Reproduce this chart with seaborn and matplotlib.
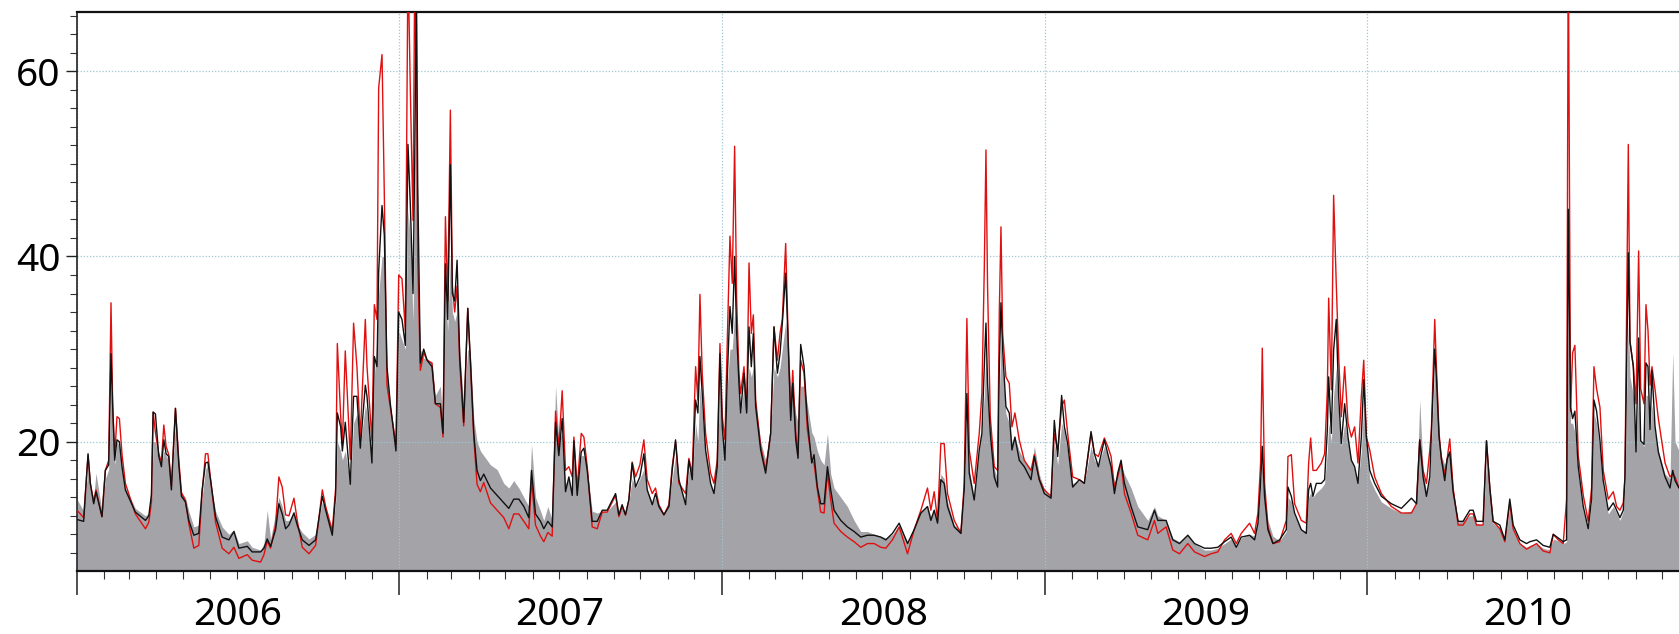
import numpy as np
import pandas as pd
import matplotlib
matplotlib.use("Agg")
import matplotlib.pyplot as plt
import matplotlib.dates as mdates
import matplotlib.ticker as mticker
import matplotlib.transforms as mtrans
import seaborn as sns

# ---------------- data ----------------
start_date = "2006-01-01"
end_offset_days = 1814.1
year_labels = ["2006", "2007", "2008", "2009", "2010"]
y_ticks = [20, 40, 60]

# day offsets from 2006-01-01
days = [
    0, 7.5, 12.5, 15.1, 18.9, 21.5, 28.3, 32.1, 35.9, 38.5, 40.4, 42.7, 45.3, 48.0, 51.0, 54.8,
    66.1, 77.5, 81.3, 84.3, 86.2, 88.8, 92.6, 95.6, 98.3, 100.9, 103.9, 106.9, 111.5, 115.3,
    118.3, 122.8, 126.6, 132.3, 137.9, 141.7, 145.5, 148.2, 151.2, 156.9, 164.4, 172, 177.7,
    183.3, 192.8, 198.4, 207.9, 211.7, 215.4, 219.2, 224.9, 228.6, 232.4, 236.2, 240, 245.7,
    249.4, 255.1, 262.7, 270.2, 277.8, 281.6, 289.1, 292.9, 294.8, 298.6, 300.5,
    303.8, 309.5, 313.2, 317, 320.8, 326.5, 328.4, 334, 336.7, 339.7, 341.6, 345.4, 348, 351,
    354.8, 361.2, 364.3, 368, 371.8, 374.8, 377.5, 380.5, 382.4, 384.3, 385.8, 388.8, 392.6,
    396.4, 402, 405.8, 411.5, 414.5, 417.2, 419.8, 422.8, 425.1, 427.7, 430.4, 433.4, 437.9,
    442.5, 445.5, 449.3, 453, 456.8, 460.6, 468.2, 475.7, 483.3, 489, 494.6, 500.3, 506,
    511.6, 514.7, 519.2, 524.9, 528.6, 533.2, 538.1, 541.9, 545.6, 549.4, 553.2, 557, 560.8,
    562.7, 566.4, 571, 574, 577.8, 583.4, 589.1, 594.8, 600.4, 609.9,
    613.6, 617.3, 621.1, 624.9, 628.7, 632.5, 637.4, 641.9, 645.7, 651.4, 655.1, 658.9,
    664.6, 670.3, 674, 677.8, 681.6, 689.2, 692.9, 696.7, 700.5, 703.1, 705.4, 708, 711.8,
    717.5, 721.3, 725, 728.1, 730.7, 733.7, 736.4, 739.4, 742, 744.7, 747, 749.6, 751.5,
    755.3, 758.3, 761, 763.6, 765.9, 768.5, 774.2, 779.8, 785.5, 789.3, 793.1, 796.1, 798.7,
    802.5, 805.2, 808.2, 810.5, 813.9, 816.5, 819.5, 823.3, 827.1, 832, 834.6, 838.4, 842.2,
    846, 849.8, 853.5, 857.3, 864.9, 872.4, 880, 887.5, 895.1, 902.7, 910.2, 915.9,
    923.4, 931, 940.5, 948, 955.6, 963.1, 966.9, 970.7, 974.5, 978.2, 982, 985.8, 993.4,
    1000.9, 1004.7, 1007.7, 1010.4, 1016, 1021.7, 1024.7, 1027.4, 1029.3, 1031.1, 1034.2,
    1038.7, 1042.5, 1044.4, 1046.3, 1048.2, 1051.9, 1055.7, 1058.7, 1062.1, 1067, 1072.7,
    1080.3, 1084.1, 1089.7, 1095.4, 1103, 1106.7, 1110.5, 1115, 1118.1, 1121.8, 1127.5,
    1135.1, 1140.7, 1148.3, 1152.1, 1156.6, 1163.4, 1167.2, 1171, 1174.8, 1178.5, 1182.3,
    1186.1, 1193.6, 1201.2, 1212.5, 1220.1,
    1223.9, 1233.3, 1240.9, 1248.4, 1257.9, 1265.5, 1276.8, 1284.3, 1291.9, 1299.5, 1307,
    1312.7, 1318.4, 1327.8, 1333.5, 1337.3, 1340.3, 1342.2, 1344.8, 1348.6, 1354.3, 1361.8,
    1369.4, 1371.3, 1375.1, 1378.8, 1386.4, 1392, 1394.7, 1397, 1399.6, 1403.4, 1409.1,
    1412.8, 1415.9, 1417.4, 1420.4, 1423, 1426, 1428.7, 1431.7, 1435.5, 1439.3, 1443.1,
    1446.8, 1450.6, 1454.4, 1457.1, 1460.1, 1463.9, 1469.5, 1477.1, 1488.4, 1499.7, 1511.1,
    1516.8, 1520.5, 1524.3, 1528.1, 1531.9,
    1533.7, 1537.5, 1539.4, 1542.4, 1545.1, 1548.8, 1551.5, 1554.5, 1558.3, 1564, 1569.6,
    1577.2, 1581, 1584.7, 1592.3, 1596.1, 1599.9, 1603.6, 1611.2, 1616.9, 1622.5, 1626.3,
    1633.9, 1641.4, 1645.2, 1652.8, 1660.3, 1667.9, 1671.7, 1677.3, 1683, 1686.8, 1688.7,
    1691.3, 1693.6, 1696.2, 1700, 1705.7, 1711.3, 1715.1, 1717.8, 1720.8, 1724.6, 1728.3,
    1734, 1739.7, 1743.5, 1747.2, 1751, 1752.9, 1754.8, 1756.7, 1758.6, 1762.4, 1765.4,
    1768.4, 1770.7, 1774.5, 1776.7, 1779, 1781.3, 1783.5, 1786.9, 1790.7, 1798.3, 1803.9,
    1807, 1809.6, 1814.1,
]

# grey area (observed)
observed = [
    13.8, 12.5, 17, 15, 14, 16.6, 12.5, 16, 17, 26, 22, 17.5, 20, 19.5, 17, 15,
    12.8, 12, 12.3, 13.5, 20, 20, 18, 17.5, 19, 18.5, 18, 15, 22, 17,
    14.5, 14, 12.5, 10.8, 11, 14, 17, 17.5, 15.5, 12.5, 10.8, 10, 10.5,
    9, 9.3, 8.6, 8.3, 9, 12.6, 9.5, 12.3, 14, 13, 11.5, 11.5, 12.5,
    11, 10.2, 9.5, 10, 13.5, 12.5, 10.2, 13.5, 20, 19, 18,
    19, 15.5, 22, 23, 19.5, 24, 23, 18, 27, 31, 36, 40, 40, 28,
    24, 19.5, 32, 31, 30, 45, 42, 33, 45, 60, 40, 30, 29,
    29, 28.5, 25, 26, 22, 36, 32, 40, 34, 33, 34, 30, 24,
    30, 29.5, 22.5, 20, 19, 18.5, 17.5, 17, 15.5, 15, 15.8, 15, 14,
    13, 19.7, 14, 12.5, 11.5, 13, 11.5, 26, 20, 21, 15.5, 16, 14.5,
    18, 15, 18.5, 18.5, 17, 12.5, 12.3, 12.5, 12.5, 13.5,
    12.3, 13, 12.3, 13.5, 16, 15, 16, 17, 14.8, 13.5, 14, 13,
    12.3, 13.5, 16, 18.5, 15.5, 13.5, 17, 16, 22, 20, 26, 23, 19,
    15.5, 14.5, 18, 26, 21, 19, 26, 30, 30, 34, 30, 26, 23,
    26, 24, 28, 27, 28, 24, 20, 18, 21, 28, 27, 28, 30,
    33, 30, 26, 26, 23, 22, 26, 26, 24, 21, 20.5, 19, 18,
    17.5, 20.9, 16.5, 15, 14, 13, 11.5, 10.3, 10.3, 10, 9.8, 9.6,
    10, 11, 9.2, 10.8, 12.5, 13, 12, 12.5, 11.5, 16.5, 16, 13.5, 11,
    10.5, 14.5, 23, 17, 14, 19, 21, 25, 30, 25, 21,
    17, 16, 25, 31, 28, 23, 22, 20, 20.5, 19, 18,
    17, 19.5, 16.5, 14.8, 14, 20, 17.5, 22, 21, 19, 15.5,
    15.8, 15.5, 19.5, 18, 17.5, 19.5, 18.5, 17.5, 15.5, 16.5, 17.5,
    16.5, 15, 13, 11.5, 13,
    12, 11.5, 9.6, 9.2, 10, 9, 8.3, 8.3, 8.5, 9, 9.5,
    8.8, 9.6, 10, 9.8, 11.5, 15, 18, 14.5, 11.5, 9.8, 9.3,
    10.3, 14, 13.5, 12, 10.5, 10.3, 14, 14.5, 14, 14.5, 15,
    15.5, 19, 22, 20, 25, 28, 23, 19.5, 22, 20, 18,
    17, 15.5, 19, 24, 20, 16, 14.8, 13.5, 12.8, 12.3, 12.5,
    13.5, 24.5, 17, 14.5, 16,
    20, 28, 25, 19.5, 18.5, 17.5, 18.5, 19, 15, 11.3, 11.5,
    12, 12, 11.2, 11, 18, 14.5, 11.2, 10.6, 9.3, 13, 10.5,
    9, 8.6, 8.8, 9, 8.5, 8.3, 9.5, 9.3, 9, 9.2, 39.6,
    22, 22, 21, 16.5, 12.5, 10.5, 13.5, 23, 22, 19, 15,
    12.2, 13, 12.3, 11.5, 12.5, 15.5, 25, 33, 27, 25, 19,
    26, 20, 19.5, 25, 25, 21, 24, 21, 19, 16.5, 16,
    29.6, 20, 19,
]

# black simulation line
sim_black = [
    11.6, 11.4, 18.7, 15.5, 13.3, 14.6, 11.9, 16.9, 17.5, 29.5, 23.8, 18, 20.2, 20, 17.3, 14.8,
    12.4, 11.5, 12.0, 14.3, 23.2, 23, 18.4, 17.3, 20.2, 18.7, 18.4, 14.8, 23.6, 17.5,
    14.1, 13.5, 11.5, 9.9, 10.1, 14.8, 17.7, 17.8, 15.9, 11.9, 9.7, 9.4, 10.3,
    8.5, 8.7, 8.1, 8.1, 8.5, 9.5, 8.7, 10.5, 13.3, 12.2, 10.6, 11, 12.3,
    11, 9.4, 8.8, 9.4, 14.1, 12.6, 9.9, 14.3, 23.1, 21.6, 19,
    22.1, 15.4, 24.9, 24.9, 19.3, 26.1, 24.9, 17.7, 29.2, 28.1, 38.4, 45.5, 42.3, 28.1,
    24.1, 19, 34, 33.2, 30.4, 52.1, 45.5, 36, 50, 70, 47.9, 28.5, 30,
    28.8, 28.1, 24.1, 24.1, 20.9, 39.2, 33.2, 49.9, 36, 35.2, 39.6, 29.2, 22.1,
    34.4, 28.8, 20.9, 16.9, 15.8, 16.5, 15, 14.2, 13.4, 12.8, 13.8, 13.8, 13,
    11.8, 16.9, 12.2, 11.4, 10.6, 11.4, 10.8, 22.1, 18.5, 22.5, 14.6, 16.2, 14.2,
    20.1, 14.2, 18.9, 19.3, 16.9, 11.4, 11.4, 12.6, 12.6, 14.4,
    12.1, 13.2, 12.1, 13.7, 17.7, 15.1, 16.2, 18.7, 14.8, 13.2, 14.4, 13,
    12.1, 13, 16.9, 20.2, 15.9, 13.2, 18, 15.9, 24.5, 23.1, 29.2, 25.2, 19.1,
    15.5, 14.4, 17.3, 29.5, 21.6, 18, 27, 34.6, 31.7, 40, 31.7, 26.3, 23.1,
    27.4, 23.1, 32.4, 28.1, 31.7, 23.8, 19.1, 16.6, 20.9, 32.4, 27.4, 29.5, 32.8,
    38.2, 31, 22.3, 26.3, 20.2, 18.2, 30.5, 28.1, 22.3, 17.7, 18.6, 15.1, 13.3,
    13.3, 17.3, 14.8, 12.6, 11.5, 10.8, 10.3, 9.7, 9.9, 9.9, 9.7, 9.4,
    10.1, 11.2, 9, 10.5, 12.3, 13, 11.5, 12.6, 11.2, 15.9, 15.5, 13, 10.8,
    10.1, 14.8, 25.2, 16.6, 13.7, 19.1, 20.9, 28.1, 32.8, 26.3, 20.9,
    16.2, 15.1, 28.1, 35, 29.9, 23.8, 23.1, 19.1, 20.5, 18, 17.3,
    15.9, 18.4, 15.9, 14.4, 13.9, 22.3, 18.4, 25, 21.6, 19.8, 15.1,
    15.9, 15.5, 21.1, 18.7, 17.3, 20.2, 18.7, 17.3, 14.4, 16.6, 18,
    15.5, 13, 10.8, 10.5, 12.6,
    11.5, 11.5, 9.4, 9, 9.9, 9, 8.5, 8.5, 8.6, 9.2, 9.7,
    8.6, 9.7, 9.9, 9.4, 11.2, 15.5, 19.5, 14.1, 10.5, 9, 9.4,
    10.5, 15.1, 14.1, 12.3, 10.5, 10.1, 14.8, 15.5, 14.1, 15.5, 15.5,
    15.9, 21.3, 27, 20.9, 29.9, 33.2, 24.9, 19.8, 24.1, 20.5, 18,
    17.3, 15.5, 20.5, 26.7, 20.5, 16.9, 15.5, 14.1, 13.3, 12.8, 13.9,
    13.3, 20.2, 16.2, 14.1, 16.2,
    20.9, 30, 26.9, 20.5, 18.1, 15.8, 18.1, 18.9, 14.6, 11.4, 11.4,
    12.6, 12.6, 11.4, 11.4, 20.1, 15, 11.4, 11, 9.4, 13.8, 11,
    9.4, 9, 9.2, 9.4, 8.8, 8.6, 10, 9.6, 9.2, 9.4, 45.1,
    23.7, 22.5, 23.3, 17.3, 13, 10.6, 13.8, 24.5, 23.3, 20.1, 15.8,
    12.6, 13.4, 12.6, 11.8, 12.6, 16.2, 28.1, 40.4, 30.8, 28.1, 18.9,
    31.2, 20.1, 19.7, 28.5, 28.1, 21.3, 27.7, 21.7, 18.9, 16.2, 15,
    16.9, 15.8, 15,
]

# red simulation line
sim_red = [
    12.6, 11.8, 18.5, 15.5, 13.5, 14.8, 11.9, 16.9, 18, 35, 24, 18.5, 22.7, 22.5, 18.6, 15.5,
    12.2, 10.6, 11.3, 13.5, 23.2, 21, 18.7, 17.8, 21.8, 19.5, 18.6, 15.2, 23.6, 18,
    14.5, 13.6, 11.2, 8.5, 8.8, 14.5, 18.7, 18.7, 16, 11.3, 8.5, 7.9, 8.6,
    7.4, 7.8, 7.2, 7.0, 7.8, 9.3, 8.5, 11, 16.2, 15.1, 12.1, 12, 13.9,
    11.5, 8.6, 7.9, 8.8, 14.8, 13, 10.4, 15, 30.6, 22.7, 19.7,
    29.8, 18.1, 32.8, 28.1, 20.5, 33.2, 28.1, 20.1, 34.8, 33.2, 58.2, 61.8, 46.7, 26.1,
    23.7, 19.7, 38, 37.6, 32, 72, 57.8, 43.9, 70, 66, 40, 27.7, 29.6,
    28.8, 28.5, 24.1, 23.7, 20.5, 44.3, 35.2, 55.8, 36.8, 34, 36.8, 28.5, 21.7,
    34.4, 28.5, 20.5, 15.4, 14.6, 15.6, 13.4, 12.6, 11.8, 10.6, 12.2, 12.2, 11.4,
    10.6, 15.8, 11, 9.8, 9.2, 10.2, 9.8, 23.3, 19.3, 25.5, 16.9, 17.3, 16.2,
    20.5, 15, 20.9, 20.5, 17.3, 10.8, 10.6, 12.4, 12.4, 14.2,
    11.9, 13, 12.1, 13.7, 17.8, 16.2, 17.5, 20.2, 15.9, 14.4, 15, 13.2,
    12.1, 13.2, 17.3, 20, 15.5, 14.4, 18.2, 16.6, 28.1, 24.5, 35.9, 27.4, 20.9,
    16.6, 15.5, 18, 30.6, 22.7, 20.2, 31, 42.2, 37.1, 51.9, 35.3, 27.4, 25.2,
    28.1, 23.4, 39.3, 31.7, 33.7, 24.5, 19.5, 16.9, 20.9, 32.4, 28.8, 31.7, 33.2,
    41.4, 31.7, 22.7, 27.7, 20.9, 18.7, 28.8, 27.4, 21.3, 18, 17.7, 14.8, 12.4,
    12.3, 16.6, 13.7, 11.2, 10.3, 9.7, 9.2, 8.6, 9, 9, 8.6, 8.5,
    9.4, 10.8, 7.9, 10.5, 12.6, 15, 12.6, 14.6, 11.5, 19.8, 19.8, 14.4, 11.5,
    10.1, 15.5, 33.3, 19.1, 15.5, 20.9, 25.2, 38.6, 51.5, 36.8, 22.7,
    17.3, 16.9, 33.9, 43.2, 31.7, 27, 26.3, 21.6, 23.1, 20.2, 18,
    16.9, 18.6, 15.9, 14.8, 14.1, 20.9, 19.1, 23.8, 24.5, 20.9, 16.2,
    15.9, 15.5, 20.9, 18.7, 18.4, 20.4, 19.5, 18.4, 15.1, 16.2, 17.7,
    14.4, 12.3, 9.9, 9.4, 11.5,
    10.1, 10.8, 8.3, 7.9, 9, 8.1, 7.6, 7.9, 8.1, 9.4, 10.1,
    9, 10.1, 11.2, 10.1, 12.3, 17.7, 30.1, 15.5, 10.8, 9, 9.2,
    11.5, 18.4, 18.6, 13.3, 11.5, 11.2, 17.7, 20.4, 16.9, 16.9, 17.7,
    18.7, 25.6, 35.5, 25.6, 46.6, 37, 29.2, 22.7, 28.1, 22, 20.5,
    21.6, 17.7, 24.9, 28.8, 20.5, 19.1, 16.2, 14.4, 13, 12.3, 12.3,
    13.3, 20.2, 16.9, 15.5, 19.1,
    21.3, 33.2, 28.1, 20.9, 18.1, 16.5, 18.1, 20.3, 15, 11, 11,
    12.2, 12.2, 11, 11, 20.1, 15, 11.4, 10.6, 9.2, 13.4, 10.6,
    9, 8.4, 8.6, 9, 8.2, 8, 10, 9.4, 9, 13.8, 75,
    23.3, 29.6, 30.4, 18.5, 14.2, 11.4, 15, 28.1, 25.7, 23.7, 16.9,
    13.8, 14.6, 13, 12.6, 13.4, 16.2, 33.6, 52.1, 30.8, 28.1, 24.1,
    40.6, 25.7, 24.1, 34.8, 32, 26.1, 28.1, 25.7, 22.5, 17.7, 16.2,
    16.5, 16.2, 15,
]

# ---------------- figure ----------------
W, H = 1679, 634
sns.set_style("ticks")
plt.rcParams["font.family"] = ["Noto Sans", "DejaVu Sans"]

fig = plt.figure(figsize=(W / 100, H / 100), dpi=100)
left_px, right_px, top_px, bottom_px = 77, 1679, 12, 570.7
ax = fig.add_axes([left_px / W, 1 - bottom_px / H,
                   (right_px - left_px) / W, (bottom_px - top_px) / H])

t0 = pd.Timestamp(start_date)
dates = t0 + pd.to_timedelta(days, unit="D")
df = pd.DataFrame({"date": dates, "observed": observed,
                   "black": sim_black, "red": sim_red})

ax.fill_between(df["date"], 0, df["observed"], color="#a3a3a8",
                linewidth=0, zorder=1)
sns.lineplot(data=df, x="date", y="red", ax=ax, color="#e01010",
             linewidth=1.0, zorder=3)
sns.lineplot(data=df, x="date", y="black", ax=ax, color="#111111",
             linewidth=1.0, zorder=4)

ax.set_xlim(t0, t0 + pd.Timedelta(days=end_offset_days))
ax.set_ylim(6.07, 66.4)
ax.set_xlabel("")
ax.set_ylabel("")

# grid
grid_color = "#9ec6d6"
ax.set_axisbelow("line")
ax.yaxis.set_major_locator(mticker.FixedLocator(y_ticks))
ax.yaxis.set_minor_locator(mticker.MultipleLocator(2))
ax.xaxis.set_major_locator(mdates.YearLocator())
ax.xaxis.set_minor_locator(mdates.MonthLocator())
ax.xaxis.set_major_formatter(mticker.NullFormatter())
ax.grid(True, which="major", axis="both", color=grid_color,
        linestyle=(0, (1, 1.5)), linewidth=0.9)

ax.tick_params(axis="y", which="major", direction="out", length=8,
               width=1.0, labelsize=28, pad=4, colors="#222222", labelcolor="black")
ax.tick_params(axis="y", which="minor", direction="out", length=5,
               width=0.8, colors="#333333")
ax.tick_params(axis="x", which="major", direction="out", length=17,
               width=1.2, colors="#333333")
ax.tick_params(axis="x", which="minor", direction="out", length=5.5,
               width=0.8, colors="#333333")

for side in ["top", "bottom"]:
    ax.spines[side].set_linewidth(1.6)
    ax.spines[side].set_color("#111111")
ax.spines["left"].set_linewidth(1.2)
ax.spines["left"].set_color("#222222")
ax.spines["right"].set_visible(False)

# year labels centred in each year
trans = mtrans.blended_transform_factory(ax.transData, ax.transAxes)
for lab in year_labels:
    mid = mdates.date2num(pd.Timestamp(f"{lab}-07-02"))
    ax.text(mid, -0.08, lab, transform=trans, ha="center", va="center",
            fontsize=28, color="black")

fig.savefig("out.png", dpi=100)
